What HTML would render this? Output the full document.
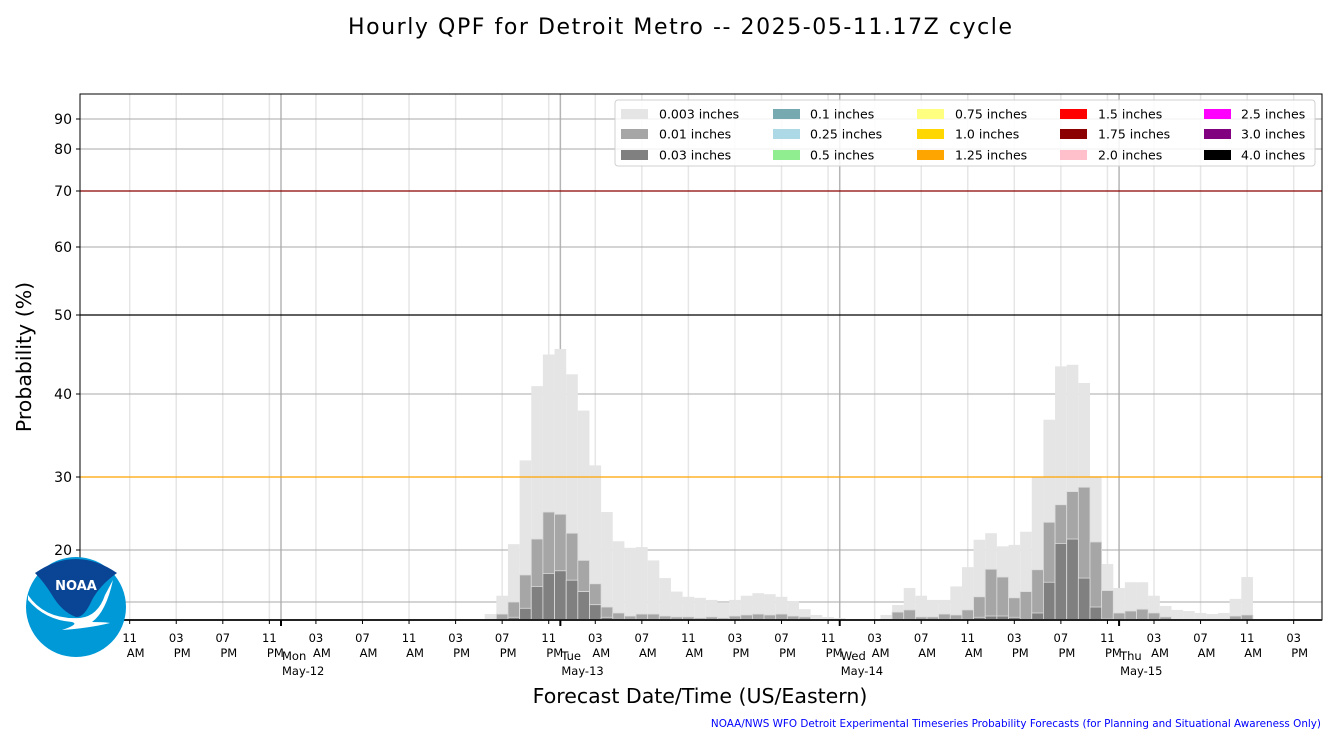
<!DOCTYPE html>
<html><head><meta charset="utf-8"><style>
html,body{margin:0;padding:0;background:#fff;}
svg{display:block;font-family:"DejaVu Sans","Liberation Sans",sans-serif;}
</style></head><body>
<svg id="chart" width="1336" height="743" viewBox="0 0 1336 743" xmlns="http://www.w3.org/2000/svg">
<text x="680" y="34" text-anchor="middle" font-size="22" textLength="664">Hourly QPF for Detroit Metro -- 2025-05-11.17Z cycle</text>
<g id="grid"></g>
<g id="bars"></g>
<g id="refs"></g>
<rect x="80" y="94" width="1242" height="526" fill="none" stroke="#000" stroke-width="1"/>
<g id="axes"></g>
<text transform="translate(31,357) rotate(-90)" text-anchor="middle" font-size="20.5">Probability (%)</text>
<text x="700" y="703" text-anchor="middle" font-size="20.5">Forecast Date/Time (US/Eastern)</text>
<text x="1321" y="727" text-anchor="end" font-size="10.4" fill="#0000ff">NOAA/NWS WFO Detroit Experimental Timeseries Probability Forecasts (for Planning and Situational Awareness Only)</text>
<g id="legend"></g>
<g>
<circle cx="76" cy="607" r="50" fill="#0099d8"/>
<path d="M35,573 Q76,545 117,573 Q100,585 92,600 Q84,618 76,617 Q62,612 52,595 Q44,582 35,573 Z" fill="#0a4595"/>
<path d="M28,595 Q45,620 80,618 Q98,616 105,595 L113,580 Q106,612 92,622 Q105,622 110,623 Q90,628 62,630 Q80,624 72,622 Q45,620 28,600 Z" fill="#fff"/>
<text x="76" y="590" text-anchor="middle" font-size="13" font-weight="bold" fill="#fff">NOAA</text>
</g>
</svg>
<script>
const hoursLight=[18,19,20,21,22,23,24,25,26,27,28,29,30,31,32,33,34,35,36,37,38,39,40,41,42,43,44,45,46,47,48,
52,53,54,55,56,57,58,59,60,61,62,63,64,65,66,67,68,69,70,71,72,73,74,75,76,77,78,79,80,81,82,83];
const probLight=[3.3,11.2,20.8,32,41,45,45.7,42.5,38,31.4,25.2,21.2,20.3,20.4,18,14.6,12,11,10.8,10.4,9.4,10.4,11.2,11.7,11.5,11,10.2,6,2.8,1.7,1,
2.8,8.3,12.7,11.2,10.4,10.4,13,16.7,21.4,22.3,20.5,20.7,22.5,30,36.9,43.5,43.7,41.4,30.1,17.3,12.7,13.8,13.8,11.2,7.8,5.6,5,3.9,3.3,3.9,10.6,14.8];
const hoursMid=[19,20,21,22,23,24,25,26,27,28,29,30,31,32,33,34,35,36,37,38,39,40,41,42,43,44,45,
53,54,55,56,57,58,59,60,61,62,63,64,65,66,67,68,69,70,71,72,73,74,75,76,82,83];
const probMid=[3.3,10,15.2,21.5,25.2,24.9,22.3,18,13.5,7.2,3.9,2.2,3.3,3.3,2.2,1.7,1.7,1.1,1.7,1.1,2.2,2.8,3.3,2.8,3.3,2.2,1.7,
4.4,5.6,1.7,1.7,3.3,2.8,5.6,11,16.3,14.8,10.8,12,16.2,23.8,26.2,28,28.6,21.1,12.2,3.9,5,6,3.9,1.7,2.2,2.8];
const hoursDark=[20,21,22,23,24,25,26,27,28,60,61,62,63,65,66,67,68,69,70,71];
const probDark=[1.5,6.5,13,15.5,16,14.2,12,8.5,1.5,1.5,2.2,2.2,1.5,3.9,13.8,20.9,21.5,14.6,7.2,0.5];
const yTicks=[20,30,40,50,60,70,80,90];
const yGrid=[10,20,30,40,50,60,70,80,90];
const legendLabels=["0.003 inches","0.01 inches","0.03 inches","0.1 inches","0.25 inches","0.5 inches","0.75 inches","1.0 inches","1.25 inches","1.5 inches","1.75 inches","2.0 inches","2.5 inches","3.0 inches","4.0 inches"];
const legendColors=["#e5e5e5","#a6a6a6","#808080","#76a9b0","#add8e6","#90ee90","#ffff80","#ffd700","#ffa500","#ff0000","#8b0000","#ffc0cb","#ff00ff","#800080","#000000"];
const dayLabels=["Mon","Tue","Wed","Thu"];
const dateLabels=["May-12","May-13","May-14","May-15"];

const NS="http://www.w3.org/2000/svg";
const X0=281, PPH=11.64, L=80, R=1322, T=94, B=620;
function xh(h){return X0+h*PPH;}
const sv=[0,10,20,30,40,50,60,70,80,90,95.5];
const sp=[620,602,550,477,394,315,247,191,149,119,94];
function y(v){for(let i=1;i<sv.length;i++){if(v<=sv[i]){const f=(v-sv[i-1])/(sv[i]-sv[i-1]);return sp[i-1]+f*(sp[i]-sp[i-1]);}}return T;}
function el(tag,attrs,parent,text){const e=document.createElementNS(NS,tag);for(const k in attrs)e.setAttribute(k,attrs[k]);if(text!==undefined)e.textContent=text;parent.appendChild(e);return e;}

const grid=document.getElementById('grid');
for(let h=-13;h<=87;h+=4){
  const ln=el('line',{x1:xh(h),x2:xh(h),y1:T,y2:B,stroke:'#e6e6e6','stroke-width':1.5},grid);
  
  
}
for(let d=0;d<4;d++){
  const ln=el('line',{x1:xh(d*24),x2:xh(d*24),y1:T,y2:B,stroke:'#b5b5b5','stroke-width':1.5},grid);
  
  
}
yGrid.forEach(v=>{
  const ln=el('line',{x1:L,x2:R,y1:y(v),y2:y(v),stroke:'#aaaaaa','stroke-width':1},grid);
  
  
});

const bars=document.getElementById('bars');
function drawBars(hs,vs,fill,edge,name){
  hs.forEach((h,i)=>{
    const top=y(vs[i]);
    const r=el('rect',{x:xh(h-0.5),y:top,width:PPH,height:B-top,fill:fill,stroke:edge,'stroke-width':edge==='none'?0:0.8},bars);
    
    
  });
}
drawBars(hoursLight,probLight,'#e5e5e5','none','bar-0.003in');
drawBars(hoursMid,probMid,'#a6a6a6','#dcdcdc','bar-0.01in');
drawBars(hoursDark,probDark,'#808080','#dcdcdc','bar-0.03in');

const refs=document.getElementById('refs');
[[70,'#8b0000','line-70pct'],[50,'#000000','line-50pct'],[30,'#ffa500','line-30pct']].forEach(a=>{
  const ln=el('line',{x1:L,x2:R,y1:y(a[0]),y2:y(a[0]),stroke:a[1],'stroke-width':1.2},refs);
  
  
});

const axes=document.getElementById('axes');
yTicks.forEach(v=>{
  el('line',{x1:L-4,x2:L,y1:y(v),y2:y(v),stroke:'#000'},axes);
  const t=el('text',{x:L-8,y:y(v)+5,'text-anchor':'end','font-size':14},axes,String(v));
  
  
});
el('line',{x1:L,x2:R,y1:B,y2:B,stroke:'#222','stroke-width':2},axes);
for(let h=-13;h<=87;h+=4){
  const x=xh(h);
  el('line',{x1:x,x2:x,y1:B,y2:B+4,stroke:'#000'},axes);
  const hr=((h%24)+24)%24;
  const h12=hr%12===0?12:hr%12;
  const t1=el('text',{x:x,y:642,'text-anchor':'middle','font-size':11.5},axes,String(h12).padStart(2,'0'));
  
  
  const t2=el('text',{x:x+6,y:657,'text-anchor':'middle','font-size':11.5},axes,hr<12?'AM':'PM');
  
  
}
dayLabels.forEach((d,i)=>{
  const x=xh(i*24);
  el('line',{x1:x,x2:x,y1:B,y2:B+6,stroke:'#000','stroke-width':2},axes);
  const a=el('text',{x:x+1,y:660,'font-size':11.5},axes,d);
  
  
  const b=el('text',{x:x+1,y:675,'font-size':11.5},axes,dateLabels[i]);
  
  
});

const lg=document.getElementById('legend');
const box=el('rect',{x:615,y:100,width:700,height:66,rx:3,fill:'#fff','fill-opacity':0.85,stroke:'#d0d0d0'},lg);


const colSw=[621,773,917,1060,1204], colTx=[659,810,955,1098,1241], rowY=[114,134,155];
legendLabels.forEach((lab,i)=>{
  const c=Math.floor(i/3), r=i%3;
  const g=el('g',{},lg);
  
  
  el('rect',{x:colSw[c],y:rowY[r]-5,width:27,height:10,fill:legendColors[i]},g);
  el('text',{x:colTx[c],y:rowY[r]+4.5,'font-size':12.5},g,lab);
});
</script>
</body></html>
